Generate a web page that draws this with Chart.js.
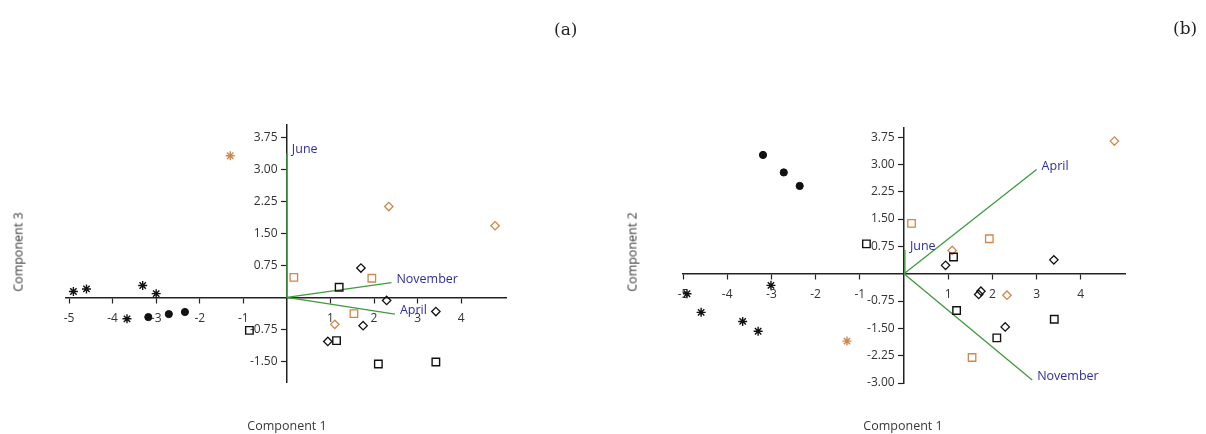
<!DOCTYPE html>
<html>
<head>
<meta charset="utf-8">
<script src="https://cdn.jsdelivr.net/npm/chart.js@4.4.1/dist/chart.umd.min.js"></script>
<style>
  html, body { margin: 0; padding: 0; background: #fff; }
  #wrap { position: relative; width: 1206px; height: 434px; overflow: hidden; background: #fff; }
  canvas { position: absolute; top: 0; }
  .txt { position: absolute; font-family: "Open Sans", sans-serif; font-size: 12.5px; font-weight: 400; color: #3a3a3a; white-space: nowrap; }
  .panel { position: absolute; font-family: "DejaVu Serif", serif; font-size: 17px; color: #222; white-space: nowrap; }
</style>
</head>
<body>
<div id="wrap">
  <canvas id="cA" width="603" height="434" style="left:0px"></canvas>
  <canvas id="cB" width="603" height="434" style="left:603px"></canvas>
  <div class="panel" style="left:554px; top:19px;">(a)</div>
  <div class="panel" style="left:1173px; top:18px;">(b)</div>
  <div class="txt" style="left:18px; top:252px; transform: translate(-50%,-50%) rotate(-90deg);">Component 3</div>
  <div class="txt" style="left:287px; top:425px; transform: translate(-50%,-50%);">Component 1</div>
  <div class="txt" style="left:632px; top:252px; transform: translate(-50%,-50%) rotate(-90deg);">Component 2</div>
  <div class="txt" style="left:903px; top:425px; transform: translate(-50%,-50%);">Component 1</div>
</div>
<script>
// ---------- Panel (a): Component 1 vs Component 3 ----------
const a_blackStar   = [[-4.90,0.14],[-4.60,0.20],[-3.31,0.28],[-3.00,0.09],[-3.67,-0.50]];
const a_blackCircle = [[-3.18,-0.46],[-2.71,-0.39],[-2.34,-0.34]];
const a_orangeStar  = [[-1.30,3.32]];
const a_blackSquare = [[-0.86,-0.77],[1.20,0.24],[1.14,-1.01],[2.10,-1.56],[3.42,-1.51]];
const a_orangeSquare= [[0.16,0.47],[1.95,0.45],[1.54,-0.38]];
const a_blackDiamond= [[1.70,0.69],[2.29,-0.07],[3.42,-0.33],[1.75,-0.66],[0.94,-1.03]];
const a_orangeDiamond=[[2.34,2.13],[4.78,1.68],[1.10,-0.63]];
const a_loadNames = ["June","November","April"];
const a_loadX     = [0.00, 2.40, 2.48];
const a_loadY     = [3.38, 0.35, -0.39];
const a_xTicks = [-5,-4,-3,-2,-1,1,2,3,4];
const a_yTicks = [3.75,3.00,2.25,1.50,0.75,-0.75,-1.50];

// ---------- Panel (b): Component 1 vs Component 2 ----------
const b_blackStar   = [[-4.91,-0.55],[-3.01,-0.32],[-4.59,-1.06],[-3.65,-1.31],[-3.30,-1.58]];
const b_blackCircle = [[-3.19,3.26],[-2.72,2.78],[-2.36,2.41]];
const b_orangeStar  = [[-1.29,-1.85]];
const b_blackSquare = [[-0.85,0.82],[1.12,0.46],[1.19,-1.01],[3.40,-1.25],[2.10,-1.76]];
const b_orangeSquare= [[0.17,1.38],[1.93,0.96],[1.54,-2.30]];
const b_blackDiamond= [[0.94,0.23],[3.39,0.38],[1.69,-0.57],[1.74,-0.48],[2.29,-1.46]];
const b_orangeDiamond=[[4.76,3.64],[1.09,0.64],[2.33,-0.59]];
const b_loadNames = ["June","April","November"];
const b_loadX     = [0.02, 3.00, 2.90];
const b_loadY     = [0.66, 2.86, -2.92];
const b_xTicks = [-5,-4,-3,-2,-1,1,2,3,4];
const b_yTicks = [3.75,3.00,2.25,1.50,0.75,-0.75,-1.50,-2.25,-3.00];

const BLACK = '#111';
const ORANGE = '#d0874a';
const GREEN = '#3d9a3d';
const LABEL = '#2f2f9c';
const AXIS = '#222';

function pts(arr){ return arr.map(p => ({x:p[0], y:p[1]})); }

function buildDatasets(g){
  const ds = [];
  ds.push({data: pts(g.blackStar), pointStyle:'star', radius:4.5, borderColor:BLACK, borderWidth:1.4, backgroundColor:BLACK, order:1});
  ds.push({data: pts(g.blackCircle), pointStyle:'circle', radius:3.6, borderColor:BLACK, borderWidth:1, backgroundColor:BLACK, order:1});
  ds.push({data: pts(g.orangeStar), pointStyle:'star', radius:4.5, borderColor:ORANGE, borderWidth:1.4, backgroundColor:ORANGE, order:1});
  ds.push({data: pts(g.blackSquare), pointStyle:'rect', radius:5.3, borderColor:BLACK, borderWidth:1.4, backgroundColor:'rgba(255,255,255,0)', order:1});
  ds.push({data: pts(g.orangeSquare), pointStyle:'rect', radius:5.3, borderColor:ORANGE, borderWidth:1.3, backgroundColor:'rgba(255,255,255,0)', order:1});
  ds.push({data: pts(g.blackDiamond), pointStyle:'rectRot', radius:4.2, borderColor:BLACK, borderWidth:1.3, backgroundColor:'rgba(255,255,255,0)', order:1});
  ds.push({data: pts(g.orangeDiamond), pointStyle:'rectRot', radius:4.2, borderColor:ORANGE, borderWidth:1.3, backgroundColor:'rgba(255,255,255,0)', order:1});
  for (let i = 0; i < g.loadX.length; i++) {
    ds.push({type:'line', data:[{x:0,y:0},{x:g.loadX[i], y:g.loadY[i]}], borderColor:GREEN, borderWidth:1.3, pointRadius:0, fill:false, order:10});
  }
  return ds;
}

const loadLabelPlugin = {
  id: 'loadLabels',
  afterDatasetsDraw(chart, args, opts) {
    const ctx = chart.ctx;
    const xs = chart.scales.x, ys = chart.scales.y;
    ctx.save();
    ctx.font = '12.5px "Open Sans", sans-serif';
    ctx.fillStyle = LABEL;
    ctx.textAlign = 'left';
    ctx.textBaseline = 'middle';
    opts.names.forEach((n, i) => {
      const px = xs.getPixelForValue(opts.lx[i]) + 5;
      const py = ys.getPixelForValue(opts.ly[i]) - 3.5;
      ctx.fillText(n, px, py);
    });
    ctx.restore();
  }
};

function makeChart(id, g, xr, yr, pad) {
  const tickFont = {family:'"Open Sans", sans-serif', size:12};
  return new Chart(document.getElementById(id), {
    type: 'scatter',
    data: { datasets: buildDatasets(g) },
    options: {
      responsive: false,
      animation: false,
      devicePixelRatio: 1,
      layout: { padding: pad },
      plugins: {
        legend: {display:false},
        tooltip: {enabled:false},
        loadLabels: { names: g.loadNames, lx: g.loadX, ly: g.loadY }
      },
      scales: {
        x: {
          type: 'linear', min: xr[0], max: xr[1],
          position: {y: 0},
          afterFit(s){ s.height = 0; },
          afterBuildTicks(s){ s.ticks = g.xTicks.map(v => ({value:v})); },
          grid: {drawOnChartArea:false, drawTicks:true, tickLength:5, tickColor:AXIS, tickWidth:1.2},
          border: {color:AXIS, width:1.5},
          ticks: {font:tickFont, color:'#333', padding:9, maxRotation:0, autoSkip:false, callback: v => String(v)}
        },
        y: {
          type: 'linear', min: yr[0], max: yr[1],
          position: {x: 0},
          afterFit(s){ s.width = 0; },
          afterBuildTicks(s){ s.ticks = g.yTicks.map(v => ({value:v})); },
          grid: {drawOnChartArea:false, drawTicks:true, tickLength:5, tickColor:AXIS, tickWidth:1.2},
          border: {color:AXIS, width:1.5},
          ticks: {font:tickFont, color:'#333', padding:4, autoSkip:false, callback: v => Number(v).toFixed(2) + '   '}
        }
      }
    },
    plugins: [loadLabelPlugin]
  });
}

makeChart('cA', {
  blackStar:a_blackStar, blackCircle:a_blackCircle, orangeStar:a_orangeStar,
  blackSquare:a_blackSquare, orangeSquare:a_orangeSquare, blackDiamond:a_blackDiamond,
  orangeDiamond:a_orangeDiamond, loadNames:a_loadNames, loadX:a_loadX, loadY:a_loadY,
  xTicks:a_xTicks, yTicks:a_yTicks
}, [-5.07, 5.03], [-1.98, 4.04], {left:66, right:97, top:125, bottom:52});

makeChart('cB', {
  blackStar:b_blackStar, blackCircle:b_blackCircle, orangeStar:b_orangeStar,
  blackSquare:b_blackSquare, orangeSquare:b_orangeSquare, blackDiamond:b_blackDiamond,
  orangeDiamond:b_orangeDiamond, loadNames:b_loadNames, loadX:b_loadX, loadY:b_loadY,
  xTicks:b_xTicks, yTicks:b_yTicks
}, [-5.0, 5.0], [-3.0, 4.0], {left:80, right:81, top:128, bottom:51});
</script>
</body>
</html>
